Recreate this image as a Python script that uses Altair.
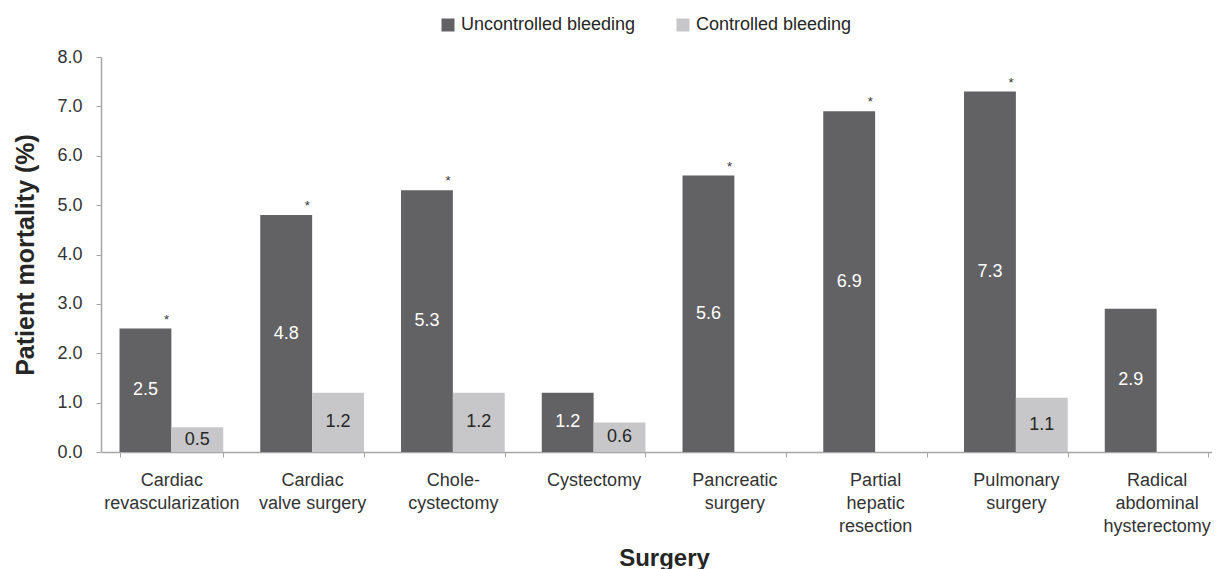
import altair as alt
import pandas as pd

categories = [
    "Cardiac|revascularization",
    "Cardiac|valve surgery",
    "Chole-|cystectomy",
    "Cystectomy",
    "Pancreatic|surgery",
    "Partial|hepatic|resection",
    "Pulmonary|surgery",
    "Radical|abdominal|hysterectomy",
]
uncontrolled = [2.5, 4.8, 5.3, 1.2, 5.6, 6.9, 7.3, 2.9]
controlled = [0.5, 1.2, 1.2, 0.6, None, None, 1.1, None]
significant = [True, True, True, False, True, True, True, False]
series = ["Uncontrolled bleeding", "Controlled bleeding"]
bar_colors = ["#626264", "#c7c7c9"]
text_colors = ["#ffffff", "#262626"]

rows = []
for i, c in enumerate(categories):
    for s, vals, tc in [(series[0], uncontrolled, text_colors[0]), (series[1], controlled, text_colors[1])]:
        v = vals[i]
        if v is None:
            continue
        rows.append({
            "cat": c,
            "series": s,
            "value": v,
            "mid": v / 2,
            "tcolor": tc,
            "sig": bool(significant[i]) and s == series[0],
        })
df = pd.DataFrame(rows)

FONT = "Arial"

x_enc = alt.X(
    "cat:N",
    sort=categories,
    scale=alt.Scale(range=[0, 1126], paddingInner=0.263, paddingOuter=0.1315),
    axis=alt.Axis(
        title="Surgery",
        labelExpr="split(datum.label, '|')",
        labelAngle=0,
        labelFontSize=18,
        labelColor="#333333",
        labelPadding=14,
        labelLineHeight=23,
        labelLimit=0,
        labelOverlap=False,
        labelBound=False,
        tickBand="extent",
        tickSize=5,
        tickColor="#a6a6a6",
        domainColor="#a6a6a6",
        domainWidth=1.5,
        titleFontSize=24,
        titleFontWeight="bold",
        titleColor="#262626",
        titleX=563,
        titleY=113,
        titleAlign="center",
        titleBaseline="alphabetic",
        grid=False,
    ),
)
xoff_enc = alt.XOffset("series:N", scale=alt.Scale(domain=series, paddingInner=0, paddingOuter=0))

y_axis = alt.Axis(
    title="Patient mortality (%)",
    values=[0, 1, 2, 3, 4, 5, 6, 7, 8],
    format=".1f",
    labelFontSize=18,
    labelColor="#333333",
    labelPadding=14,
    tickSize=5,
    tickColor="#a6a6a6",
    domainColor="#a6a6a6",
    domainWidth=1.5,
    titleFontSize=25,
    titleFontWeight="bold",
    titleColor="#262626",
    titleX=-68,
    titleY=197.5,
    titleAngle=270,
    titleAlign="center",
    titleBaseline="alphabetic",
    grid=False,
)

base = alt.Chart(df)

bars = base.mark_bar().encode(
    x=x_enc,
    xOffset=xoff_enc,
    y=alt.Y("value:Q", scale=alt.Scale(domain=[0, 8], nice=False), axis=y_axis),
    color=alt.Color(
        "series:N",
        scale=alt.Scale(domain=series, range=bar_colors),
        legend=alt.Legend(
            orient="none",
            legendX=338,
            legendY=-41,
            direction="horizontal",
            title=None,
            symbolType="square",
            symbolSize=169,
            symbolStrokeWidth=0,
            labelFontSize=18,
            labelColor="#262626",
            labelLimit=0,
            labelOffset=4,
            columnPadding=38,
            padding=0,
        ),
    ),
)

labels = base.mark_text(fontSize=18, baseline="middle", align="center", font=FONT).encode(
    x=x_enc,
    xOffset=xoff_enc,
    y=alt.Y("mid:Q"),
    text=alt.Text("value:Q", format=".1f"),
    color=alt.Color("tcolor:N", scale=None),
)

stars = base.transform_filter("datum.sig").mark_text(
    text="*", fontSize=13, dx=21, dy=-5, baseline="alphabetic", align="center", color="#333333", font=FONT
).encode(
    x=x_enc,
    xOffset=xoff_enc,
    y=alt.Y("value:Q"),
)

chart = (
    alt.layer(bars, labels, stars)
    .properties(
        width=1111,
        height=395,
        autosize=alt.AutoSizeParams(type="none"),
        padding={"left": 93, "top": 49, "right": 0, "bottom": 117},
    )
    .configure(font=FONT)
    .configure_view(stroke=None)
)

chart.save("out.html", embed_options={"renderer": "svg", "actions": False})
